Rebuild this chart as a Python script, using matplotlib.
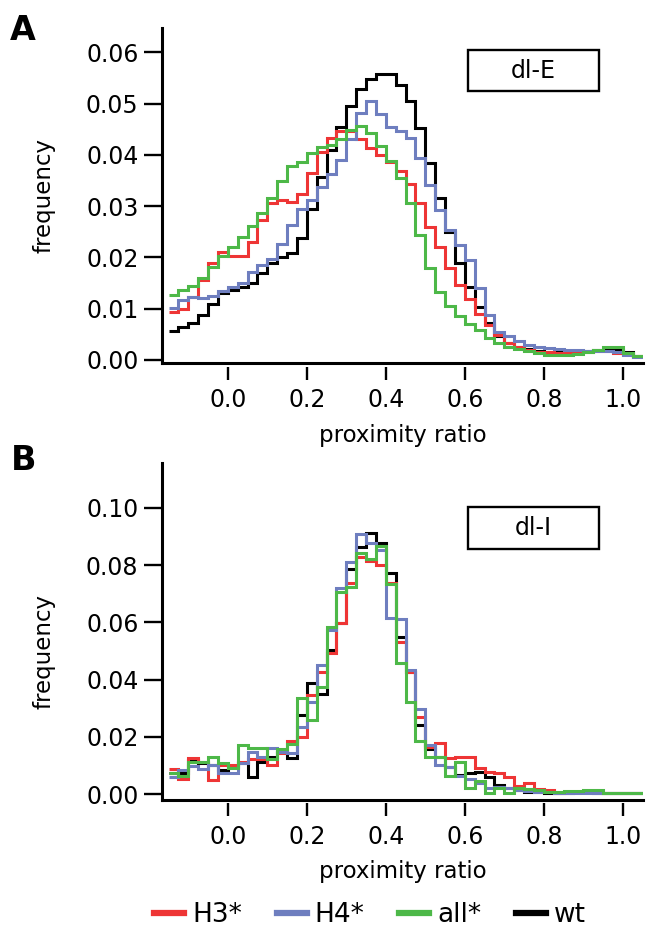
"""Histogramas de proximity ratio (dl-E y dl-I) para las cuatro variantes."""

import matplotlib
import matplotlib.pyplot as plt
import numpy as np
from matplotlib.lines import Line2D
from matplotlib.patches import Rectangle

matplotlib.use("Agg")

# bins of width 0.025 from -0.15 to 1.05
bin_start = -0.15
bin_width = 0.025

labels = ["H3*", "H4*", "all*", "wt"]
colors = {"H3*": "#ee3535", "H4*": "#6e7ebf", "all*": "#4db848", "wt": "#000000"}

# panel A: dl-E
wt_e = [0.0057, 0.0064, 0.0072, 0.0087, 0.0109, 0.0130, 0.0137, 0.0143, 0.0151, 0.0169,
        0.0189, 0.0200, 0.0208, 0.0237, 0.0294, 0.0356, 0.0410, 0.0454, 0.0496, 0.0529,
        0.0548, 0.0558, 0.0557, 0.0537, 0.0505, 0.0452, 0.0385, 0.0316, 0.0250, 0.0189,
        0.0143, 0.0103, 0.0072, 0.0046, 0.0034, 0.0025, 0.0021, 0.0018, 0.0016, 0.0015,
        0.0015, 0.0017, 0.0018, 0.0019, 0.0020, 0.0019, 0.0015, 0.0008]
h4_e = [0.0101, 0.0116, 0.0122, 0.0120, 0.0125, 0.0135, 0.0142, 0.0151, 0.0172, 0.0185,
        0.0196, 0.0226, 0.0263, 0.0294, 0.0313, 0.0337, 0.0363, 0.0390, 0.0431, 0.0482,
        0.0506, 0.0480, 0.0454, 0.0446, 0.0433, 0.0394, 0.0342, 0.0293, 0.0254, 0.0225,
        0.0195, 0.0140, 0.0088, 0.0055, 0.0046, 0.0036, 0.0029, 0.0025, 0.0023, 0.0021,
        0.0020, 0.0019, 0.0018, 0.0018, 0.0017, 0.0015, 0.0010, 0.0005]
h3_e = [0.0094, 0.0099, 0.0122, 0.0155, 0.0189, 0.0210, 0.0202, 0.0202, 0.0231, 0.0273,
        0.0306, 0.0312, 0.0309, 0.0324, 0.0364, 0.0406, 0.0433, 0.0447, 0.0447, 0.0431,
        0.0413, 0.0400, 0.0387, 0.0368, 0.0344, 0.0306, 0.0260, 0.0220, 0.0180, 0.0146,
        0.0118, 0.0089, 0.0068, 0.0049, 0.0033, 0.0025, 0.0020, 0.0016, 0.0015, 0.0014,
        0.0013, 0.0015, 0.0016, 0.0017, 0.0017, 0.0014, 0.0012, 0.0008]
all_e = [0.0127, 0.0137, 0.0144, 0.0159, 0.0182, 0.0203, 0.0221, 0.0239, 0.0261, 0.0286,
         0.0315, 0.0350, 0.0378, 0.0387, 0.0404, 0.0416, 0.0420, 0.0431, 0.0449, 0.0457,
         0.0443, 0.0418, 0.0388, 0.0355, 0.0306, 0.0244, 0.0179, 0.0133, 0.0105, 0.0085,
         0.0070, 0.0059, 0.0042, 0.0033, 0.0026, 0.0021, 0.0018, 0.0013, 0.0010, 0.0010,
         0.0010, 0.0012, 0.0016, 0.0020, 0.0025, 0.0025, 0.0013, 0.0007]

# panel B: dl-I
wt_i = [0.0072, 0.0072, 0.0119, 0.0107, 0.0101, 0.0084, 0.0096, 0.0107, 0.0061, 0.0113,
        0.0130, 0.0148, 0.0125, 0.0276, 0.0389, 0.0350, 0.0503, 0.0597, 0.0786, 0.0865,
        0.0914, 0.0879, 0.0772, 0.0548, 0.0428, 0.0241, 0.0156, 0.0130, 0.0096, 0.0066,
        0.0075, 0.0078, 0.0058, 0.0031, 0.0022, 0.0014, 0.0008, 0.0008, 0.0005, 0.0005,
        0.0005, 0.0006, 0.0006, 0.0005, 0.0005, 0.0004, 0.0004, 0.0003]
h4_i = [0.0061, 0.0084, 0.0098, 0.0086, 0.0101, 0.0075, 0.0072, 0.0107, 0.0148, 0.0130,
        0.0160, 0.0148, 0.0142, 0.0233, 0.0323, 0.0451, 0.0573, 0.0719, 0.0812, 0.0908,
        0.0879, 0.0853, 0.0614, 0.0612, 0.0434, 0.0296, 0.0171, 0.0101, 0.0096, 0.0063,
        0.0051, 0.0037, 0.0020, 0.0026, 0.0020, 0.0014, 0.0010, 0.0008, 0.0006, 0.0005,
        0.0005, 0.0005, 0.0005, 0.0004, 0.0004, 0.0004, 0.0003, 0.0003]
h3_i = [0.0086, 0.0051, 0.0125, 0.0113, 0.0049, 0.0101, 0.0101, 0.0113, 0.0121, 0.0121,
        0.0101, 0.0142, 0.0186, 0.0200, 0.0346, 0.0428, 0.0494, 0.0597, 0.0737, 0.0830,
        0.0815, 0.0801, 0.0738, 0.0533, 0.0428, 0.0270, 0.0166, 0.0180, 0.0125, 0.0131,
        0.0131, 0.0090, 0.0078, 0.0075, 0.0061, 0.0028, 0.0037, 0.0016, 0.0014, 0.0003,
        0.0008, 0.0008, 0.0012, 0.0008, 0.0005, 0.0005, 0.0005, 0.0005]
all_i = [0.0075, 0.0063, 0.0113, 0.0113, 0.0130, 0.0110, 0.0090, 0.0171, 0.0160, 0.0160,
         0.0121, 0.0156, 0.0175, 0.0334, 0.0259, 0.0373, 0.0585, 0.0707, 0.0725, 0.0841,
         0.0821, 0.0867, 0.0733, 0.0458, 0.0322, 0.0186, 0.0130, 0.0130, 0.0063, 0.0113,
         0.0022, 0.0047, 0.0005, 0.0022, 0.0002, 0.0020, 0.0016, 0.0014, 0.0006, 0.0008,
         0.0010, 0.0010, 0.0014, 0.0014, 0.0004, 0.0003, 0.0002, 0.0002]

x_ticks = [0.0, 0.2, 0.4, 0.6, 0.8, 1.0]
y_ticks_e = [0.00, 0.01, 0.02, 0.03, 0.04, 0.05, 0.06]
y_ticks_i = [0.00, 0.02, 0.04, 0.06, 0.08, 0.10]

plt.rcParams["font.family"] = ["DejaVu Sans"]


def panel(ax, series, y_ticks, ylim, caja, etiqueta):
    """Un panel: histogramas en escalera, ejes estilo Igor y caja con el nombre."""
    edges = bin_start + bin_width * np.arange(len(series["wt"]) + 1)
    for nombre in ["wt", "H3*", "H4*", "all*"]:
        ax.stairs(series[nombre], edges, baseline=None, color=colors[nombre],
                  linewidth=2.2)

    ax.set_xlim(-0.1666, 1.051)
    ax.set_ylim(*ylim)

    for lado in ["top", "right"]:
        ax.spines[lado].set_visible(False)
    ax.spines["left"].set_linewidth(2.2)
    # las marcas del eje x van separadas de la línea del eje
    ax.spines["bottom"].set_position(("outward", 2.5))
    ax.spines["bottom"].set_visible(False)
    ax.axhline(ylim[0], color="black", linewidth=2.2, clip_on=False)

    ax.set_xticks(x_ticks)
    ax.set_xticklabels([f"{v:.1f}" for v in x_ticks])
    ax.set_yticks(y_ticks)
    ax.set_yticklabels([f"{v:.2f}" for v in y_ticks])
    ax.tick_params(axis="x", direction="out", length=9.5, width=1.7,
                   labelsize=17, pad=6)
    ax.tick_params(axis="y", direction="out", length=13, width=1.7,
                   labelsize=17, pad=4)

    ax.set_xlabel("proximity ratio", fontsize=16.5)
    ax.set_ylabel("frequency", fontsize=16.5)

    x0, y0, ancho, alto = caja
    ax.add_patch(Rectangle((x0, y0), ancho, alto, transform=ax.transAxes,
                           fill=False, edgecolor="black", linewidth=1.7))
    ax.text(x0 + ancho / 2, y0 + alto / 2, etiqueta, transform=ax.transAxes,
            ha="center", va="center", fontsize=17)


fig = plt.figure(figsize=(6.48, 9.31), dpi=100)

ax_a = fig.add_axes([0.25, 0.6098, 0.7423, 0.3598])
panel(ax_a, {"wt": wt_e, "H3*": h3_e, "H4*": h4_e, "all*": all_e},
      y_ticks_e, (-0.00065, 0.0647), (0.636, 0.8128, 0.272, 0.122), "dl-E")
ax_a.xaxis.set_label_coords(0.5, -0.181)
ax_a.yaxis.set_label_coords(-0.222, 0.5)

ax_b = fig.add_axes([0.25, 0.1407, 0.7423, 0.362])
panel(ax_b, {"wt": wt_i, "H3*": h3_i, "H4*": h4_i, "all*": all_i},
      y_ticks_i, (-0.0021, 0.1157), (0.636, 0.745, 0.272, 0.124), "dl-I")
ax_b.xaxis.set_label_coords(0.5, -0.178)
ax_b.yaxis.set_label_coords(-0.222, 0.44)

fig.text(23 / 648, 1 - 40 / 931, "A", ha="center", va="baseline",
         fontsize=24, fontweight="bold")
fig.text(24 / 648, 1 - 470 / 931, "B", ha="center", va="baseline",
         fontsize=24, fontweight="bold")

manijas = [Line2D([], [], color=colors[n], linewidth=4.5) for n in labels]
fig.legend(manijas, labels, loc="center", bbox_to_anchor=(370 / 648, 16 / 931),
           ncol=4, frameon=False, fontsize=19, handlelength=1.15,
           handletextpad=0.3, columnspacing=1.3, borderpad=0, borderaxespad=0)

fig.savefig("out.png", dpi=100)
plt.close(fig)
